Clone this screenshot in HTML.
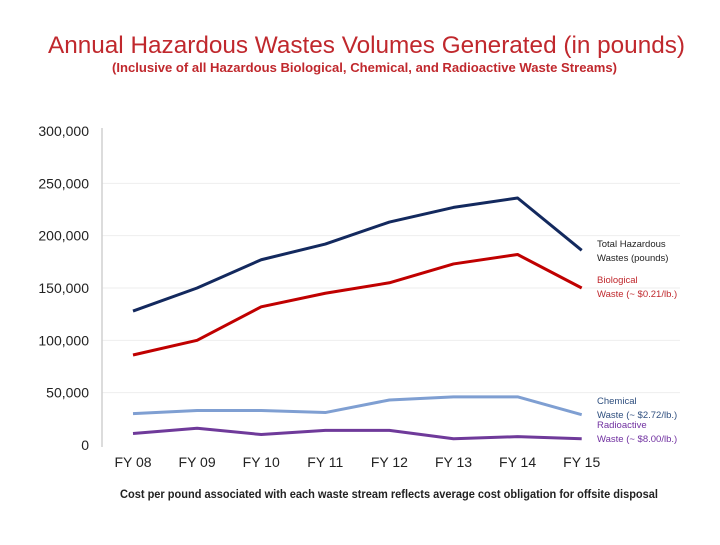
<!DOCTYPE html>
<html><head><meta charset="utf-8"><style>
body{margin:0;background:#fff;width:720px;height:540px;overflow:hidden;font-family:"Liberation Sans",sans-serif}
</style></head><body>
<svg width="720" height="540" xmlns="http://www.w3.org/2000/svg">
<text x="48" y="53" font-size="24" textLength="637" lengthAdjust="spacingAndGlyphs" fill="#c0282d">Annual Hazardous Wastes Volumes Generated  (in pounds)</text>
<text x="112" y="72" font-size="12.5" font-weight="bold" textLength="505" lengthAdjust="spacingAndGlyphs" fill="#c0282d">(Inclusive of all Hazardous Biological, Chemical, and Radioactive Waste Streams)</text>
<g id="grid"></g><g id="yl"></g><g id="xl"></g><g id="lines"></g>
<line x1="102" y1="128" x2="102" y2="447" stroke="#d0d0d0" stroke-width="1.5"/>
<g font-size="9.5" font-family="Liberation Sans,sans-serif">
<text x="597" y="247" fill="#222"><tspan x="597">Total Hazardous</tspan><tspan x="597" dy="14">Wastes (pounds)</tspan></text>
<text x="597" y="283" fill="#c0282d"><tspan x="597">Biological</tspan><tspan x="597" dy="14">Waste (~ $0.21/lb.)</tspan></text>
<text x="597" y="404" fill="#2f4f7f"><tspan x="597">Chemical</tspan><tspan x="597" dy="14">Waste (~ $2.72/lb.)</tspan></text>
<text x="597" y="428" fill="#7030a0"><tspan x="597">Radioactive</tspan><tspan x="597" dy="14">Waste (~ $8.00/lb.)</tspan></text>
</g>
<text x="120" y="498" font-size="11.5" font-weight="bold" textLength="538" lengthAdjust="spacingAndGlyphs" fill="#222">Cost per pound associated with each waste stream reflects average cost obligation for offsite disposal</text>
</svg>
<script>
const categories=["FY 08","FY 09","FY 10","FY 11","FY 12","FY 13","FY 14","FY 15"];
const totalValues=[128000,150000,177000,192000,213000,227000,236000,186000];
const bioValues=[86000,100000,132000,145000,155000,173000,182000,150000];
const chemValues=[30000,33000,33000,31000,43000,46000,46000,29000];
const radValues=[11000,16000,10000,14000,14000,6000,8000,6000];
const yTicks=[0,50000,100000,150000,200000,250000,300000];
const yTickLabels=["0","50,000","100,000","150,000","200,000","250,000","300,000"];
const NS="http://www.w3.org/2000/svg";
const y=v=>445-v/300000*314;
const x=i=>133+i*64.1;
const grid=document.getElementById('grid'),yl=document.getElementById('yl'),xl=document.getElementById('xl'),lines=document.getElementById('lines');
yTicks.forEach((t,i)=>{
 if(t>0&&t<300000){const l=document.createElementNS(NS,'line');
 l.setAttribute('x1',102);l.setAttribute('x2',680);l.setAttribute('y1',y(t));l.setAttribute('y2',y(t));
 l.setAttribute('stroke','#eeeeee');
 
 
 grid.appendChild(l);}
 const tx=document.createElementNS(NS,'text');
 tx.setAttribute('x',89);tx.setAttribute('y',y(t)+5);tx.setAttribute('text-anchor','end');
 tx.setAttribute('font-size','14');tx.setAttribute('fill','#222');tx.textContent=yTickLabels[i];
 
 
 yl.appendChild(tx);
});
categories.forEach((c,i)=>{
 const tx=document.createElementNS(NS,'text');
 tx.setAttribute('x',x(i));tx.setAttribute('y',467);tx.setAttribute('text-anchor','middle');
 tx.setAttribute('font-size','14');tx.setAttribute('fill','#222');tx.textContent=c;
 
 
 xl.appendChild(tx);
});
function series(vals,color,name){
 const p=document.createElementNS(NS,'polyline');
 p.setAttribute('points',vals.map((v,i)=>x(i)+','+y(v)).join(' '));
 p.setAttribute('fill','none');p.setAttribute('stroke',color);p.setAttribute('stroke-width','3');
 p.setAttribute('stroke-linejoin','round');
 
 
 lines.appendChild(p);
}
series(chemValues,'#7f9fd2','line-chemical');
series(radValues,'#6f3a9a','line-radioactive');
series(bioValues,'#c00000','line-biological');
series(totalValues,'#13295e','line-total');
</script>
</body></html>
